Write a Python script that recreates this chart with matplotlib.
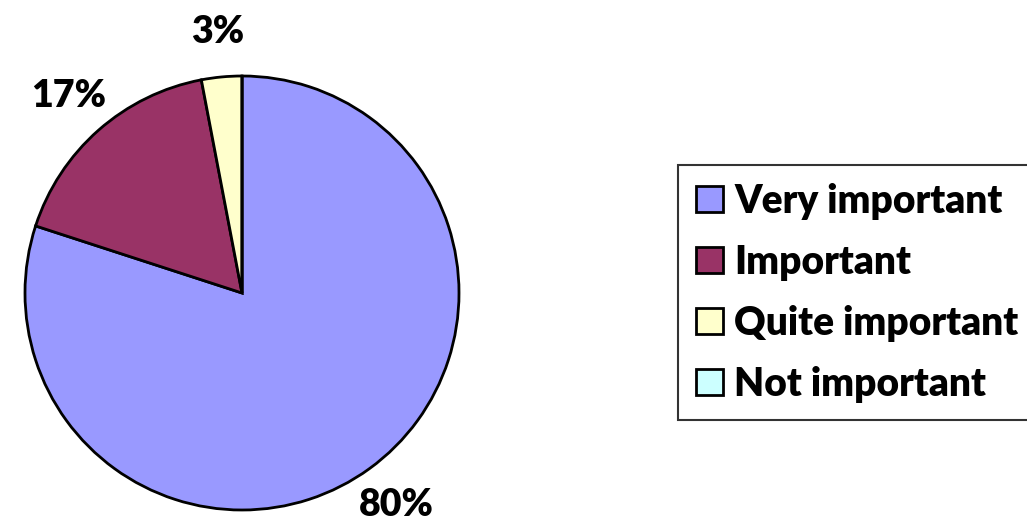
import matplotlib.pyplot as plt

categories = ["Very important", "Important", "Quite important", "Not important"]
values = [80, 17, 3, 0]
colours = ["#9999FF", "#993366", "#FFFFCC", "#CCFFFF"]

plt.rcParams['font.family'] = ['Lato', 'DejaVu Sans']

fig = plt.figure(figsize=(10.27, 5.26), dpi=100)
ax = fig.add_axes([25 / 1027, 16 / 526, 434 / 1027, 434 / 526])

labels = [f"{v}%" if v else "" for v in values]
wedges, texts = ax.pie(values, labels=labels, colors=colours, startangle=90,
                       counterclock=False, labeldistance=1.21,
                       wedgeprops={"edgecolor": "black", "linewidth": 2},
                       textprops={"fontsize": 27, "fontweight": "heavy"})
for t in texts:
    t.set_ha("center")
    t.set_va("center")
ax.set_aspect("equal")
ax.set_xlim(-1, 1)
ax.set_ylim(-1, 1)

leg = fig.legend(wedges, categories, loc="upper left",
                 bbox_to_anchor=(678 / 1027, 1 - 165 / 526),
                 prop={"size": 28, "weight": "heavy"},
                 frameon=True, fancybox=False, edgecolor="black",
                 handlelength=0.7, handleheight=0.65, handletextpad=0.3,
                 labelspacing=0.62, borderpad=0.45, borderaxespad=0)
leg.get_frame().set_linewidth(1.5)

fig.savefig("out.png", dpi=100)
